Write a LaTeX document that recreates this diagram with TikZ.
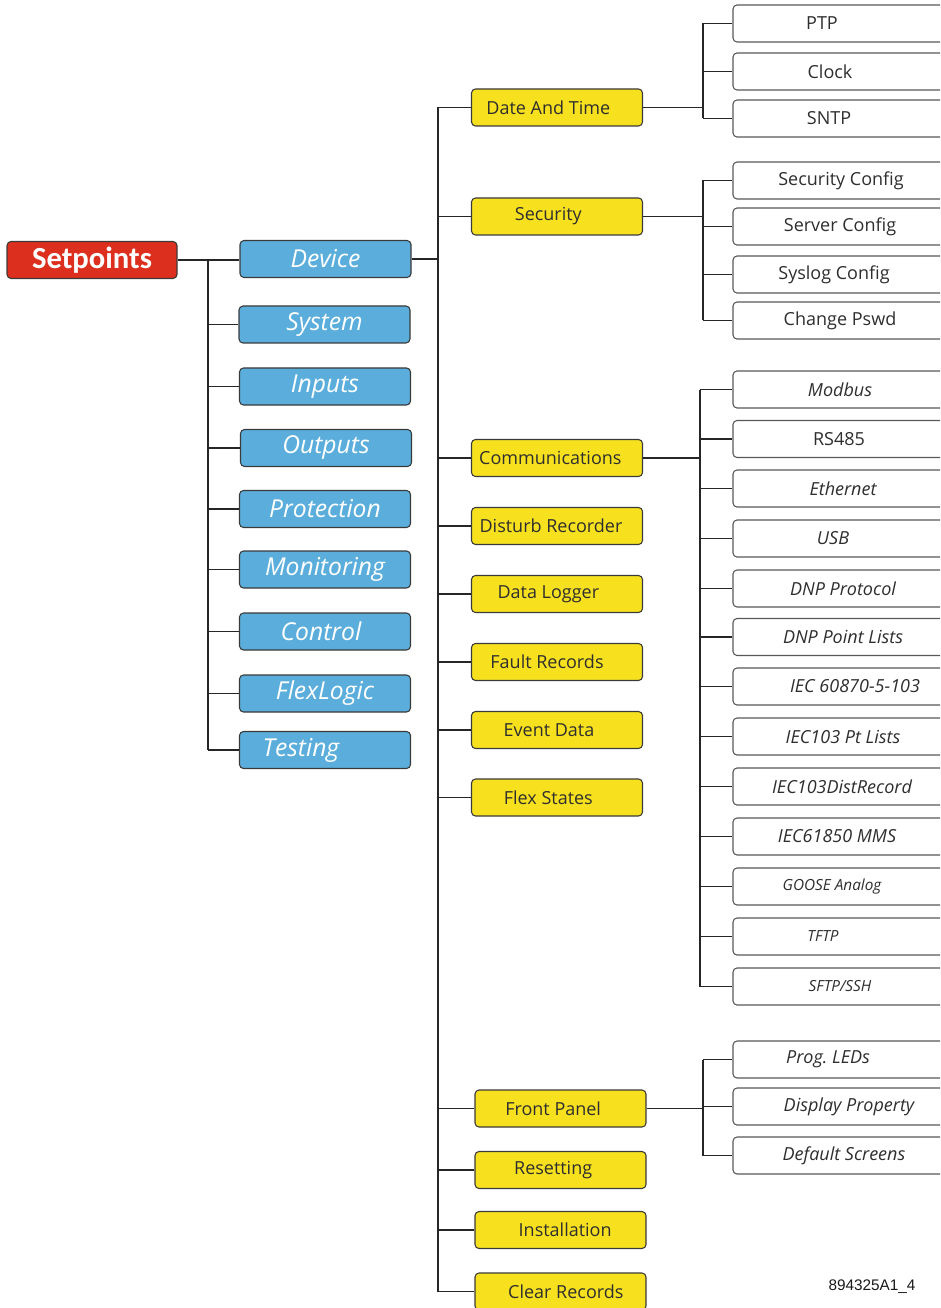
\documentclass[tikz,border=0pt]{standalone}
\usepackage{fontspec}
\setmainfont{Open Sans}
\newfontfamily\capfont{Carlito}
\newfontfamily\numfont{Liberation Sans}
\definecolor{gsred}{HTML}{DC2F1E}
\definecolor{gsblue}{HTML}{5BAEDC}
\definecolor{gsyellow}{HTML}{F7E11F}
\definecolor{gsborder}{HTML}{3A3A3A}
\definecolor{gstext}{HTML}{2E2E2E}
\newcommand\Sh[1]{\hspace*{#1pt}}
\tikzset{
  boxbase/.style={draw=gsborder, line width=0.8pt, rounded corners=3pt, inner sep=0pt, anchor=center},
  redbox/.style={boxbase, fill=gsred, minimum width=127.5pt, minimum height=27.75pt, text=white, font=\capfont\bfseries\fontsize{23}{23}\selectfont},
  bluebox/.style={boxbase, fill=gsblue, minimum width=128.25pt, minimum height=27.75pt, text=white, font=\itshape\fontsize{18.5}{18.5}\selectfont},
  yelbox/.style={boxbase, fill=gsyellow, minimum width=128.25pt, minimum height=27.75pt, text=gstext, font=\fontsize{13.5}{13.5}\selectfont},
  whtbox/.style={boxbase, draw=gsborder!85, fill=white, minimum width=165pt, minimum height=27.75pt, text=gstext, font=\fontsize{13.5}{13.5}\selectfont},
  itbox/.style={whtbox, font=\itshape\fontsize{13.5}{13.5}\selectfont},
  smbox/.style={whtbox, font=\itshape\fontsize{11.5}{11.5}\selectfont},
  conn/.style={draw=black!85, line width=0.9pt},
}
\begin{document}
\begin{tikzpicture}[x=0.75pt,y=-0.75pt]
\useasboundingbox (0,0) rectangle (940,1308);
\clip (0,0) rectangle (940,1308);
% level 0
\node[redbox] (setp) at (92,260) {Setpoints};
% level 1
\node[bluebox] (dev) at (325.5,259) {Device};
\node[bluebox] (sys) at (324.5,324.5) {System};
\node[bluebox] (inp) at (325,386.5) {Inputs};
\node[bluebox] (outp) at (326,448) {Outputs};
\node[bluebox] (prot) at (325,509) {Protection};
\node[bluebox] (mon) at (325,569.5) {Monitoring};
\node[bluebox] (ctl) at (325,631.5) {\Sh{-6}Control};
\node[bluebox] (flx) at (325,693.5) {FlexLogic};
\node[bluebox] (tst) at (325,750) {\Sh{-36}Testing};
% level 2
\node[yelbox] (dat) at (557,107.5) {\Sh{-13}Date And Time};
\node[yelbox] (sec) at (557,216.5) {\Sh{-13}Security};
\node[yelbox] (com) at (557,458) {\Sh{-10}Communications};
\node[yelbox] (dis) at (557,526) {\Sh{-9}Disturb Recorder};
\node[yelbox] (dlg) at (557,594) {\Sh{-13}Data Logger};
\node[yelbox] (flt) at (557,662) {\Sh{-15}Fault Records};
\node[yelbox] (evt) at (557,730) {\Sh{-12}Event Data};
\node[yelbox] (fst) at (557,797.5) {\Sh{-13}Flex States};
\node[yelbox] (fp) at (560.5,1108.5) {\Sh{-11}Front Panel};
\node[yelbox] (rst) at (560.5,1170) {\Sh{-11}Resetting};
\node[yelbox] (ins) at (560.5,1230) {\Sh{7}Installation};
\node[yelbox] (clr) at (560.5,1291.5) {\Sh{8}Clear Records};
% level 3
\node[whtbox] (ptp) at (843,23.5) {\Sh{-31.5}PTP};
\node[whtbox] (clk) at (843,71.5) {\Sh{-19.5}Clock};
\node[whtbox] (sntp) at (843,118.5) {\Sh{-21}SNTP};
\node[whtbox] (scfg) at (843,180.5) {\Sh{-3}Security Config};
\node[whtbox] (srv) at (843,226.5) {\Sh{-4.5}Server Config};
\node[whtbox] (slog) at (843,274.5) {\Sh{-13.5}Syslog Config};
\node[whtbox] (pswd) at (843,320.5) {\Sh{-4.5}Change Pswd};
\node[itbox] (mdb) at (843,389.5) {\Sh{-4.5}Modbus};
\node[whtbox] (rs) at (843,439) {\Sh{-6}RS485};
\node[itbox] (eth) at (843,488.5) {Ethernet};
\node[itbox] (usb) at (843,538.5) {\Sh{-15}USB};
\node[itbox] (dnp) at (843,588.5) {DNP Protocol};
\node[itbox] (dnpl) at (843,637) {DNP Point Lists};
\node[itbox] (iec) at (843,686.5) {\Sh{18}IEC 60870-5-103};
\node[itbox] (iecl) at (843,736.5) {IEC103 Pt Lists};
\node[itbox] (iecd) at (843,786.5) {\Sh{-1.5}IEC103DistRecord};
\node[itbox] (mms) at (843,836.5) {\Sh{-9}IEC61850 MMS};
\node[smbox] (goose) at (843,886.5) {\Sh{-16.5}GOOSE Analog};
\node[smbox] (tftp) at (843,936.5) {\Sh{-30}TFTP};
\node[smbox] (sftp) at (843,986.5) {\Sh{-4.5}SFTP/SSH};
\node[itbox] (led) at (843,1059.5) {\Sh{-22.5}Prog.\ LEDs};
\node[itbox] (disp) at (843,1106.5) {\Sh{9}Display Property};
\node[itbox] (dscr) at (843,1155.5) {\Sh{1.5}Default Screens};
% caption
\node[font=\numfont\fontsize{11.5}{11.5}\selectfont, text=black!90, inner sep=0pt] (cap) at (872,1287) {894325A1\_4};
% trunks
\coordinate (t1) at (208,0);
\coordinate (t2) at (438,0);
\coordinate (t3) at (703,0);
\coordinate (t4) at (700,0);
% level 0 -> 1
\draw[conn] (setp.east) -- (setp.east -| dev.west);
\draw[conn] (t1 |- setp.east) -- (t1 |- tst.west);
\foreach \n in {sys,inp,outp,prot,mon,ctl,flx,tst} \draw[conn] (t1 |- \n.west) -- (\n.west);
% level 1 -> 2
\draw[conn] (dev.east) -- (dev.east -| t2);
\draw[conn] (t2 |- dat.west) -- (t2 |- clr.west);
\foreach \n in {dat,sec,com,dis,dlg,flt,evt,fst,fp,rst,ins,clr} \draw[conn] (t2 |- \n.west) -- (\n.west);
% level 2 -> 3
\draw[conn] (dat.east) -- (dat.east -| t3);
\draw[conn] (t3 |- ptp.west) -- (t3 |- sntp.west);
\foreach \n in {ptp,clk,sntp} \draw[conn] (t3 |- \n.west) -- (\n.west);
\draw[conn] (sec.east) -- (sec.east -| t3);
\draw[conn] (t3 |- scfg.west) -- (t3 |- pswd.west);
\foreach \n in {scfg,srv,slog,pswd} \draw[conn] (t3 |- \n.west) -- (\n.west);
\draw[conn] (com.east) -- (com.east -| t4);
\draw[conn] (t4 |- mdb.west) -- (t4 |- sftp.west);
\foreach \n in {mdb,rs,eth,usb,dnp,dnpl,iec,iecl,iecd,mms,goose,tftp,sftp} \draw[conn] (t4 |- \n.west) -- (\n.west);
\draw[conn] (fp.east) -- (fp.east -| t3);
\draw[conn] (t3 |- led.west) -- (t3 |- dscr.west);
\foreach \n in {led,disp,dscr} \draw[conn] (t3 |- \n.west) -- (\n.west);
\end{tikzpicture}
\end{document}
